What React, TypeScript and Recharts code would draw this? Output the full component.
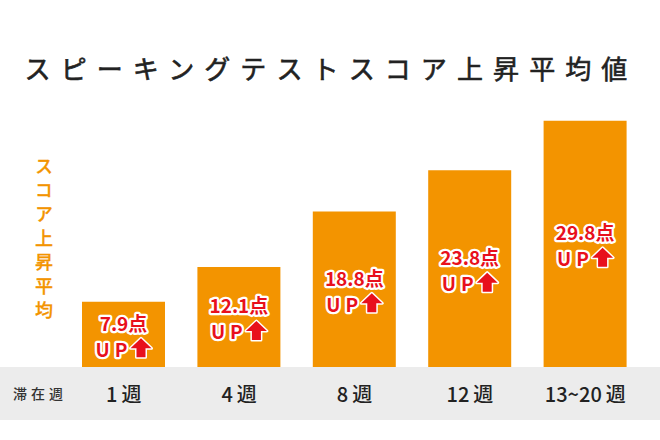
import { BarChart, Bar, XAxis, YAxis, LabelList } from "recharts";

const weeks = ["1週", "4週", "8週", "12週", "13~20週"];
const scoreUp = [7.9, 12.1, 18.8, 23.8, 29.8];

const data = weeks.map((week, i) => ({ week, up: scoreUp[i] }));

const ORANGE = "#f39400";
const RED = "#e8101c";
const JP = "'Noto Sans CJK JP', 'Noto Sans', sans-serif";

const WeekTick = (props: any) => {
  const { x, y, payload } = props;
  const label: string = payload.value;
  const num = label.replace("週", "");
  return (
    <text
      x={x}
      y={y + 26}
      textAnchor="middle"
      dominantBaseline="central"
      fill="#222"
      fontSize={20}
      fontFamily={JP}
      fontWeight={500}
    >
      {num}
      <tspan dx={4}>週</tspan>
    </text>
  );
};

const UpLabel = (props: any) => {
  const { x, y, width, height, value } = props;
  const cx = x + width / 2;
  const cy = y + height / 2;
  const l2 = cy + 14;
  const ax = cx + 7;
  const arrow = `M${ax + 10.5},${l2 - 10} L${ax + 21},${l2} L${ax + 15},${l2} L${ax + 15},${l2 + 9} L${ax + 6},${l2 + 9} L${ax + 6},${l2} L${ax},${l2} Z`;
  const common = {
    fill: RED,
    stroke: "#fff",
    strokeWidth: 4.5,
    paintOrder: "stroke" as const,
    strokeLinejoin: "round" as const,
    fontFamily: JP,
    fontWeight: 700,
    fontSize: 19,
  };
  return (
    <g>
      <text x={cx} y={cy - 12} textAnchor="middle" dominantBaseline="central" {...common}>
        {value}点
      </text>
      <text x={cx - 28} y={l2} textAnchor="start" dominantBaseline="central" letterSpacing={5} {...common}>
        UP
      </text>
      <path d={arrow} fill={RED} stroke="#fff" strokeWidth={3} paintOrder="stroke" strokeLinejoin="round" />
    </g>
  );
};

export default function App() {
  return (
    <div
      style={{
        position: "absolute",
        left: 0,
        top: 0,
        width: 660,
        height: 440,
        background: "#fff",
        overflow: "hidden",
        fontFamily: JP,
      }}
    >
      <div
        style={{
          position: "absolute",
          left: 0,
          top: 367,
          width: 660,
          height: 53,
          background: "#ececec",
        }}
      />
      <div
        style={{
          position: "absolute",
          left: 0,
          top: 50,
          width: 660,
          paddingLeft: 2,
          boxSizing: "border-box",
          textAlign: "center",
          fontSize: 26,
          fontWeight: 400,
          letterSpacing: 10.1,
          color: "#222",
          WebkitTextStroke: "0.6px #222",
          lineHeight: "36px",
        }}
      >
        スピーキングテストスコア上昇平均値
      </div>
      <div
        style={{
          position: "absolute",
          left: 33,
          top: 157,
          writingMode: "vertical-rl",
          fontSize: 18,
          letterSpacing: 6,
          color: ORANGE,
          fontWeight: 500,
          WebkitTextStroke: "0.3px " + ORANGE,
          lineHeight: "22px",
        }}
      >
        スコア上昇平均
      </div>
      <div
        style={{
          position: "absolute",
          left: 13,
          top: 383,
          fontSize: 14,
          letterSpacing: 4,
          color: "#333",
          fontWeight: 500,
          lineHeight: "20px",
        }}
      >
        滞在週
      </div>
      <BarChart
        width={660}
        height={440}
        data={data}
        margin={{ top: 119, right: 17, bottom: 20, left: 66 }}
        style={{ position: "absolute", left: 0, top: 0 }}
      >
        <XAxis
          dataKey="week"
          height={53}
          axisLine={false}
          tickLine={false}
          tickSize={0}
          tickMargin={0}
          interval={0}
          tick={<WeekTick />}
        />
        <YAxis hide domain={[0, 30]} />
        <Bar dataKey="up" fill={ORANGE} barSize={83} isAnimationActive={false}>
          <LabelList dataKey="up" content={<UpLabel />} />
        </Bar>
      </BarChart>
    </div>
  );
}
